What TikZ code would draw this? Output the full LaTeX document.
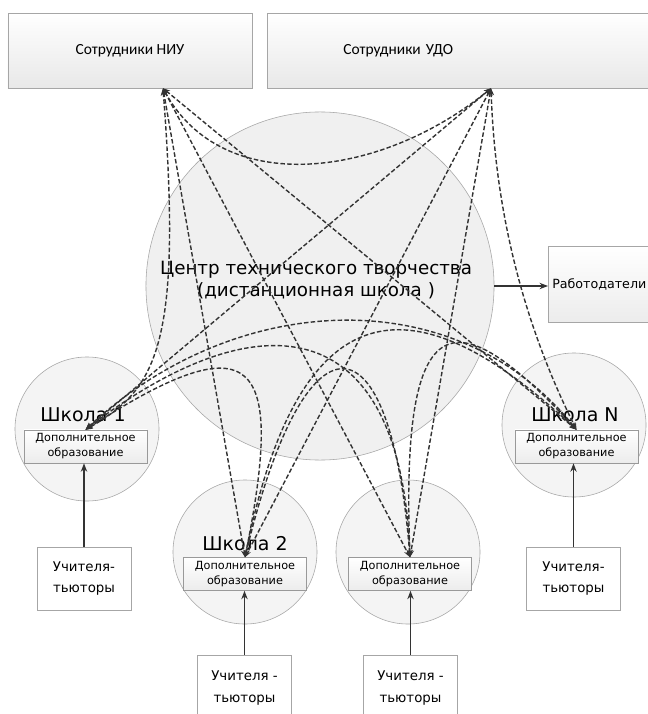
\documentclass[tikz,border=0pt]{standalone}
\usepackage{fontspec}
\setmainfont{DejaVu Sans}
\newfontfamily\calfont{Carlito}
\usepackage{tikz}
\usetikzlibrary{shapes,arrows.meta,calc}
\tikzset{
  topbox/.style={ draw=gray!70, top color=white, bottom color=gray!18, minimum height=1.875cm, inner sep=0pt, font=\calfont\fontsize{11}{13}\selectfont }
}
\tikzset{
  bigcirc/.style={ draw=gray!70, circle, fill=gray!12, minimum size=8.7cm, inner sep=0pt }
}
\tikzset{
  schoolcirc/.style={ draw=gray!70, circle, fill=gray!9, minimum size=3.6cm, inner sep=0pt }
}
\tikzset{
  dopbox/.style={ draw=gray!80, top color=white, bottom color=gray!15, minimum width=3.075cm, minimum height=0.825cm, inner sep=0pt, align=center, font=\fontsize{8}{10.6}\selectfont }
}
\tikzset{
  tutorbox/.style={ draw=gray!70, fill=white, minimum width=2.35cm, minimum height=1.575cm, align=center, font=\fontsize{9.5}{15}\selectfont }
}
\tikzset{
  emplbox/.style={ draw=gray!70, top color=white, bottom color=gray!15, minimum height=1.9cm, minimum width=3.05cm, text width=2.85cm, inner xsep=0.1cm, align=left, font=\fontsize{9}{11}\selectfont }
}
\tikzset{
  link/.style={ draw=black!80, line width=1pt, dash pattern=on 3.2pt off 1.6pt, {Stealth[length=5pt,width=4pt]}-{Stealth[length=5pt,width=4pt]} }
}
\tikzset{
  feed/.style={ draw=black!80, line width=1pt, -{Stealth[length=6pt,width=4.5pt]} }
}
\begin{document}
\begin{tikzpicture}[x=0.025cm, y=-0.025cm]
      \fill[white] (0,0) rectangle (648,714);
      \useasboundingbox (0,0) rectangle (648,714);

      \node[topbox, minimum width=6.1cm] (niu) at (130,50.5) {Сотрудники НИУ};
      \node[topbox, minimum width=9.825cm, anchor=west, inner xsep=1.9cm, text width=6.025cm, align=left] (udo) at (267,50.5) {Сотрудники УДО};

      \node[bigcirc] (ctr) at (320,286) {};
      \node[align=center, font=\fontsize{13}{16}\selectfont] (ctrname) at (316,280) {Центр технического творчества\\(дистанционная школа )};
      \node[emplbox, anchor=west] (empl) at (548,284) {Работодатели};

      % schools
      \node[schoolcirc] (s1) at (87,429) {};
      \node[schoolcirc] (s2) at (245,552) {};
      \node[schoolcirc] (s3) at (408,552) {};
      \node[schoolcirc] (sN) at (574,425) {};
      \node[font=\fontsize{13.5}{16}\selectfont] (s1name) at (83,415) {Школа 1};
      \node[font=\fontsize{13.5}{16}\selectfont] (s2name) at (245,544) {Школа 2};
      \node[font=\fontsize{13.5}{16}\selectfont] (sNname) at (575,415) {Школа N};
      \node[dopbox] (d1) at (85.5,446.5) {Дополнительное\\образование};
      \node[dopbox] (d2) at (245,574) {Дополнительное\\образование};
      \node[dopbox] (d3) at (410,574) {Дополнительное\\образование};
      \node[dopbox] (dN) at (576.5,446.5) {Дополнительное\\образование};

      % tutors
      \node[tutorbox] (t1) at (84,578.5) {Учителя-\\тьюторы};
      \node[tutorbox] (tN) at (573.5,578.5) {Учителя-\\тьюторы};
      \node[tutorbox, minimum height=1.65cm] (t2) at (244.5,688) {Учителя -\\тьюторы};
      \node[tutorbox, minimum height=1.65cm] (t3) at (410.5,688) {Учителя -\\тьюторы};

      \draw[feed] (t1) -- (t1 |- d1.south);
      \draw[feed] (t2) -- (t2 |- d2.south);
      \draw[feed] (t3) -- (t3 |- d3.south);
      \draw[feed] (tN) -- (tN |- dN.south);
      \draw[feed] (ctr.east) -- (ctr.east -| empl.west);

      \coordinate (niuP) at ($(niu.south)+(33,0)$);
      \coordinate (udoP) at ($(udo.south west)+(224,0)$);

      \draw[link] (niuP) .. controls +(60,110) and +(-110,90) .. (udoP);
      \draw[link] (niuP) .. controls +(20,260) and +(70,-40) .. (d1.north);
      \draw[link] (niuP) -- (d2.north);
      \draw[link] (niuP) -- (d3.north);
      \draw[link] (niuP) -- (dN.north);
      \draw[link] (udoP) -- (d1.north);
      \draw[link] (udoP) -- (d2.north);
      \draw[link] (udoP) -- (d3.north);
      \draw[link] (udoP) .. controls +(5,150) and +(-40,-80) .. (dN.north);
      \draw[link] (d1.north) .. controls +(150,-140) and +(-120,-150) .. (dN.north);
      \draw[link] (d1.north) .. controls +(170,-130) and +(-10,-250) .. (d3.north);
      \draw[link] (d1.north) .. controls +(170,-110) and +(40,-200) .. (d2.north);
      \draw[link] (d2.north) .. controls +(60,-250) and +(-20,-250) .. (d3.north);
      \draw[link] (d2.north) .. controls +(60,-300) and +(-140,-130) .. (dN.north);
      \draw[link] (d3.north) .. controls +(-10,-260) and +(-120,-130) .. (dN.north);
\end{tikzpicture}
\end{document}
